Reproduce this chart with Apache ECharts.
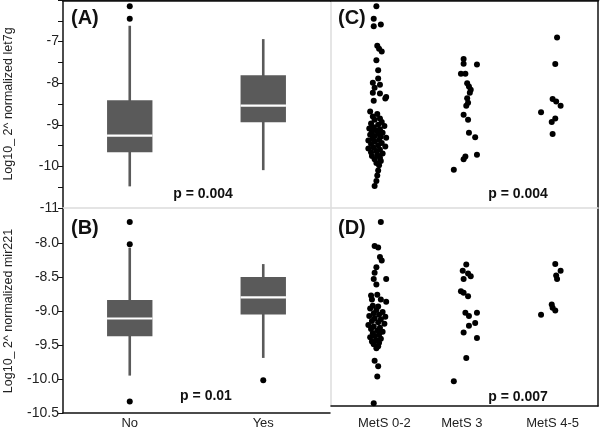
<!DOCTYPE html>
<html><head><meta charset="utf-8">
<script src="https://cdn.jsdelivr.net/npm/echarts@6/dist/echarts.min.js"></script>
<style>html,body{margin:0;padding:0;background:#fff}#c{width:600px;height:430px}</style>
</head><body><div id="c"></div>
<script>
const boxCategories = ['No', 'Yes'];
const metsCategories = ['MetS 0-2', 'MetS 3', 'MetS 4-5'];
const metsLabelPos = [0.6, 1.47, 2.49];
// box stats: [low whisker, Q1, median, Q3, high whisker]
const let7gBoxNo = [-10.48, -9.66, -9.26, -8.41, -6.62];
const let7gBoxYes = [-10.09, -8.94, -8.54, -7.81, -6.94];
const let7gOutNo = [-6.15, -6.45];
const let7gOutYes = [];
const mir221BoxNo = [-9.95, -9.37, -9.11, -8.84, -8.07];
const mir221BoxYes = [-9.69, -9.05, -8.80, -8.50, -8.31];
const mir221OutNo = [-7.69, -8.02, -10.33];
const mir221OutYes = [-10.02];

// let7g by MetS group (values) and horizontal jitter (category widths)
const let7gMetS02 = [-6.15,-6.45,-6.59,-6.63,-7.10,-7.17,-7.24,-7.45,-7.69,-7.89,-7.99,-8.04,-8.11,-8.23,-8.25,-8.33,-8.37,-8.42,
  -8.68,-8.74,-8.80,-8.85,-8.88,-8.93,-8.97,-9.00,-9.03,-9.06,-9.09,-9.11,-9.14,-9.17,-9.19,-9.22,-9.24,-9.27,-9.29,-9.31,-9.33,-9.36,-9.38,-9.41,-9.44,-9.46,-9.49,-9.52,-9.55,-9.57,-9.60,-9.63,-9.66,-9.69,-9.72,-9.75,-9.79,-9.83,-9.87,-9.92,-9.97,
  -10.10,-10.22,-10.35,-10.47];
const let7gJit02 = [0.01,-0.02,0.06,-0.02,0.02,0.04,0.07,0.01,0.03,0.03,-0.03,0.05,-0.01,-0.03,0.05,0.12,0.11,-0.02,
  -0.06,0.02,-0.03,0.05,-0.01,0.07,-0.05,0.03,0.10,-0.02,-0.07,0.05,0.01,-0.04,0.08,0.03,-0.06,-0.01,0.06,0.12,-0.03,0.04,-0.08,-0.01,0.07,-0.05,0.03,0.11,-0.02,-0.08,0.05,0.01,-0.05,0.08,0.02,-0.04,0.05,-0.01,0.06,0.01,0.04,
  0.03,0.02,0.01,-0.01];
const let7gMetS3 = [-7.42,-7.53,-7.55,-7.77,-7.77,-8.00,-8.08,-8.16,-8.23,-8.36,-8.47,-8.54,-8.76,-8.88,-9.19,-9.30,-9.72,-9.76,-9.83,-10.08];
const let7gJit3 = [-0.01,-0.01,0.14,-0.04,0.01,0.03,0.05,0.07,0.06,0.03,0.04,0.02,-0.01,0.04,0.05,0.12,0.14,0.01,-0.01,-0.12];
const let7gMetS45 = [-6.90,-7.54,-8.38,-8.44,-8.54,-8.70,-8.85,-8.93,-9.22];
const let7gJit45 = [0.04,0.02,-0.01,0.03,0.08,-0.14,0.02,-0.02,-0.01];

const mir221MetS02 = [-7.69,-8.04,-8.06,-8.20,-8.25,-8.35,-8.43,-8.52,-8.52,-8.60,-8.76,-8.75,-8.82,-8.82,-8.85,-8.91,-8.92,
  -8.95,-8.97,-9.00,-9.02,-9.04,-9.06,-9.07,-9.09,-9.11,-9.13,-9.15,-9.19,-9.17,-9.21,-9.23,-9.25,-9.27,-9.29,-9.31,-9.33,-9.35,-9.37,-9.39,-9.41,-9.43,-9.45,-9.47,-9.50,-9.53,
  -9.71,-9.79,-9.94,-10.33];
const mir221Jit02 = [0.06,-0.01,0.03,0.05,0.07,0.01,-0.01,-0.02,0.12,0.01,-0.05,0.02,-0.04,0.06,0.12,-0.03,0.03,
  -0.06,0.01,0.08,-0.02,0.04,-0.07,0.11,-0.01,0.06,-0.04,0.03,-0.08,0.10,-0.02,0.05,-0.05,0.02,0.08,-0.03,0.04,-0.01,-0.06,0.06,0.01,-0.04,0.04,-0.02,0.03,0.01,
  -0.01,0.03,0.02,-0.02];
const mir221MetS3 = [-8.31,-8.40,-8.44,-8.48,-8.52,-8.70,-8.72,-8.77,-9.01,-9.06,-9.01,-9.16,-9.20,-9.30,-9.38,-9.67,-10.01];
const mir221Jit3 = [0.02,-0.02,0.04,0.07,-0.01,-0.04,-0.01,0.04,0.01,0.05,0.14,0.12,0.05,-0.01,0.14,0.02,-0.12];
const mir221MetS45 = [-8.30,-8.40,-8.47,-8.52,-8.89,-8.94,-8.98,-9.04];
const mir221Jit45 = [0.02,0.08,0.03,0.04,-0.02,-0.01,0.02,-0.14];

const pTexts = ['p = 0.004', 'p = 0.01', 'p = 0.004', 'p = 0.007'];
const panelTags = ['(A)', '(B)', '(C)', '(D)'];

const FONT = "'Liberation Sans', Arial, Helvetica, sans-serif";
const BOX = '#5a5a5a';
const TXT = '#222';

function jitterData(groups, jitters) {
  const out = [];
  groups.forEach((g, i) => g.forEach((v, k) => out.push([i + 0.5 + jitters[i][k], v])));
  return out;
}
function outlierData(lists) {
  const out = [];
  lists.forEach((l, i) => l.forEach(v => out.push([i, v])));
  return out;
}
function renderBox(params, api) {
  const x = api.value(0);
  const lo = api.coord([x, api.value(1)]);
  const q1 = api.coord([x, api.value(2)]);
  const md = api.coord([x, api.value(3)]);
  const q3 = api.coord([x, api.value(4)]);
  const hi = api.coord([x, api.value(5)]);
  const bw = api.size([1, 0])[0] * 0.34;
  return {
    type: 'group',
    children: [
      { type: 'line', shape: { x1: lo[0], y1: lo[1], x2: hi[0], y2: hi[1] }, style: { stroke: BOX, lineWidth: 2.6 } },
      { type: 'rect', shape: { x: q3[0] - bw / 2, y: q3[1], width: bw, height: q1[1] - q3[1] }, style: { fill: BOX } },
      { type: 'line', shape: { x1: md[0] - bw / 2, y1: md[1], x2: md[0] + bw / 2, y2: md[1] }, style: { stroke: '#fff', lineWidth: 2.2 } }
    ]
  };
}

const black = { show: true, onZero: false, lineStyle: { color: '#111', width: 1.5 } };
const blackThick = { show: true, onZero: false, lineStyle: { color: '#111', width: 2.5 } };
const gray = { show: true, onZero: false, lineStyle: { color: '#dcdcdc', width: 1.5 } };
const off = { show: false };
const dot = { color: '#000', opacity: 1 };

const chart = echarts.init(document.getElementById('c'));
chart.setOption({
  animation: false,
  backgroundColor: '#fff',
  textStyle: { fontFamily: FONT },
  grid: [
    { left: 63, top: 0, width: 267, height: 208 },
    { left: 63, top: 209, width: 267, height: 207 },
    { left: 331, top: 0, width: 267, height: 208 },
    { left: 331, top: 209, width: 267, height: 198 }
  ],
  xAxis: [
    { gridIndex: 0, type: 'category', data: boxCategories, position: 'bottom', axisLine: gray, axisTick: off, axisLabel: off, splitLine: off },
    { gridIndex: 0, type: 'category', data: boxCategories, position: 'top', axisLine: blackThick, axisTick: off, axisLabel: off, splitLine: off },
    { gridIndex: 1, type: 'category', data: boxCategories, position: 'bottom', axisLine: black, axisTick: off, splitLine: off,
      axisLabel: { color: TXT, fontSize: 13, margin: 4, fontFamily: FONT } },
    { gridIndex: 2, type: 'value', min: 0, max: 3, position: 'bottom', axisLine: gray, axisTick: off, axisLabel: off, splitLine: off },
    { gridIndex: 2, type: 'value', min: 0, max: 3, position: 'top', axisLine: blackThick, axisTick: off, axisLabel: off, splitLine: off },
    { gridIndex: 3, type: 'value', min: 0, max: 3, position: 'bottom', axisLine: black, axisTick: off, splitLine: off,
      axisLabel: { color: TXT, fontSize: 13, margin: 11, fontFamily: FONT, customValues: metsLabelPos,
        formatter: v => metsCategories[Math.round(v - 0.5)] } }
  ],
  yAxis: [
    { gridIndex: 0, type: 'value', min: -11, max: -6, interval: 0.5, axisLine: black, splitLine: off,
      axisTick: { show: true, length: 5, lineStyle: { color: '#111' } },
      axisLabel: { color: TXT, fontSize: 14, margin: 4, fontFamily: FONT,
        formatter: v => (Number.isInteger(v) && v < -6) ? String(v) : '' },
      name: 'Log10_ 2^ normalized let7g', nameLocation: 'middle', nameGap: 48,
      nameTextStyle: { color: TXT, fontSize: 12.5, fontFamily: FONT } },
    { gridIndex: 1, type: 'value', min: -10.5, max: -7.5, interval: 0.5, axisLine: black, splitLine: off,
      axisTick: { show: true, length: 5, lineStyle: { color: '#111' } },
      axisLabel: { color: TXT, fontSize: 14, margin: 4, fontFamily: FONT, showMaxLabel: false,
        formatter: v => v.toFixed(1) },
      name: 'Log10_ 2^ normalized mir221', nameLocation: 'middle', nameGap: 48,
      nameTextStyle: { color: TXT, fontSize: 12.5, fontFamily: FONT } },
    { gridIndex: 2, type: 'value', min: -11, max: -6, position: 'left', axisLine: gray, axisTick: off, axisLabel: off, splitLine: off },
    { gridIndex: 2, type: 'value', min: -11, max: -6, position: 'right', axisLine: black, axisTick: off, axisLabel: off, splitLine: off },
    { gridIndex: 3, type: 'value', min: -10.37, max: -7.5, position: 'left', axisLine: gray, axisTick: off, axisLabel: off, splitLine: off },
    { gridIndex: 3, type: 'value', min: -10.37, max: -7.5, position: 'right', axisLine: black, axisTick: off, axisLabel: off, splitLine: off }
  ],
  series: [
    { type: 'custom', xAxisIndex: 0, yAxisIndex: 0, renderItem: renderBox,
      data: [[0, ...let7gBoxNo], [1, ...let7gBoxYes]], z: 2 },
    { type: 'scatter', xAxisIndex: 0, yAxisIndex: 0, symbolSize: 6, itemStyle: dot,
      data: outlierData([let7gOutNo, let7gOutYes]) },
    { type: 'custom', xAxisIndex: 2, yAxisIndex: 1, renderItem: renderBox,
      data: [[0, ...mir221BoxNo], [1, ...mir221BoxYes]], z: 2 },
    { type: 'scatter', xAxisIndex: 2, yAxisIndex: 1, symbolSize: 6, itemStyle: dot,
      data: outlierData([mir221OutNo, mir221OutYes]) },
    { type: 'scatter', xAxisIndex: 3, yAxisIndex: 2, symbolSize: 6, itemStyle: dot,
      data: jitterData([let7gMetS02, let7gMetS3, let7gMetS45], [let7gJit02, let7gJit3, let7gJit45]) },
    { type: 'scatter', xAxisIndex: 5, yAxisIndex: 4, symbolSize: 6, itemStyle: dot,
      data: jitterData([mir221MetS02, mir221MetS3, mir221MetS45], [mir221Jit02, mir221Jit3, mir221Jit45]) }
  ],
  graphic: [
    { type: 'text', left: 71, top: 8, style: { text: panelTags[0], font: 'bold 20px ' + FONT, fill: '#111' } },
    { type: 'text', left: 71, top: 218, style: { text: panelTags[1], font: 'bold 20px ' + FONT, fill: '#111' } },
    { type: 'text', left: 338, top: 8, style: { text: panelTags[2], font: 'bold 20px ' + FONT, fill: '#111' } },
    { type: 'text', left: 338, top: 218, style: { text: panelTags[3], font: 'bold 20px ' + FONT, fill: '#111' } },
    { type: 'text', x: 203, y: 194, style: { text: pTexts[0], font: 'bold 14px ' + FONT, fill: '#111', align: 'center', verticalAlign: 'middle' } },
    { type: 'text', x: 206, y: 396, style: { text: pTexts[1], font: 'bold 14px ' + FONT, fill: '#111', align: 'center', verticalAlign: 'middle' } },
    { type: 'text', x: 518, y: 194, style: { text: pTexts[2], font: 'bold 14px ' + FONT, fill: '#111', align: 'center', verticalAlign: 'middle' } },
    { type: 'text', x: 518, y: 397, style: { text: pTexts[3], font: 'bold 14px ' + FONT, fill: '#111', align: 'center', verticalAlign: 'middle' } }
  ]
});
</script></body></html>
